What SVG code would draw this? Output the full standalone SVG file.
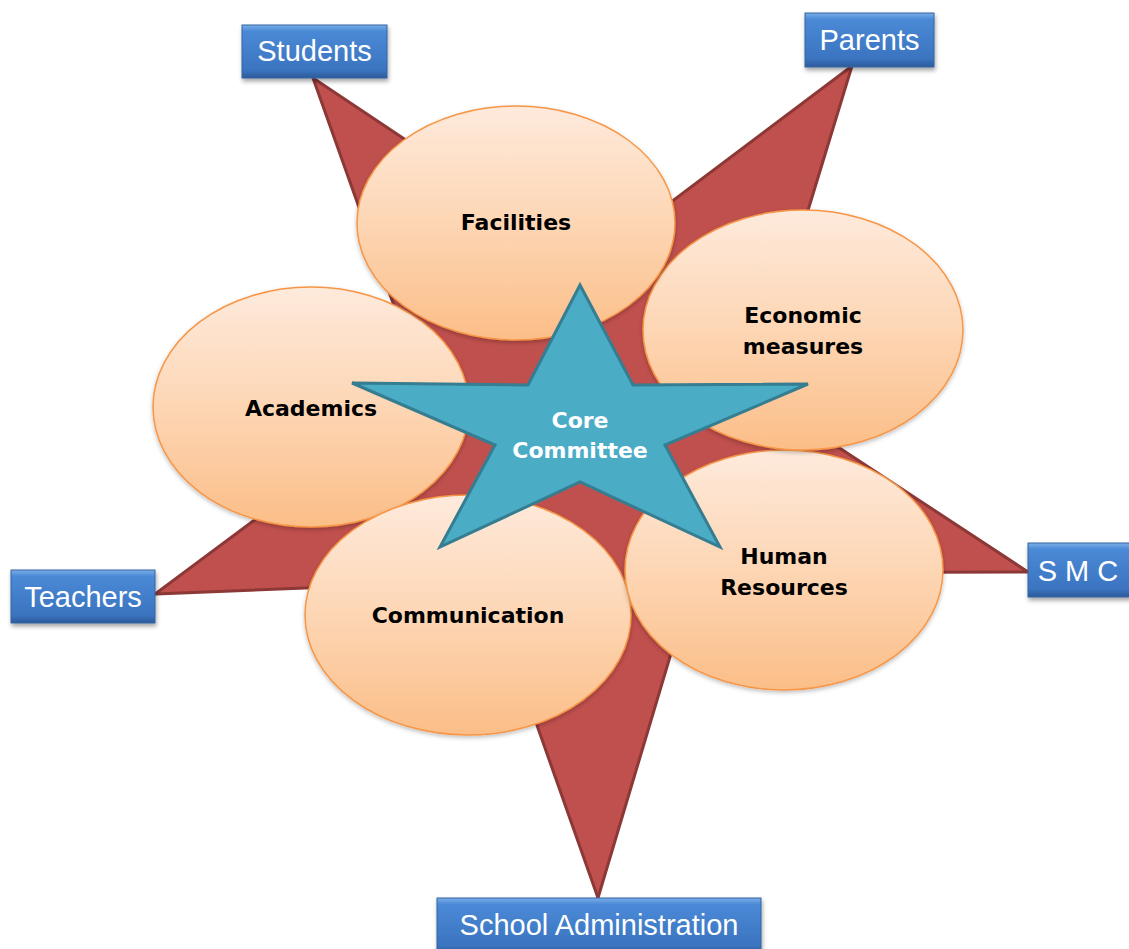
<svg xmlns="http://www.w3.org/2000/svg" width="1129" height="949" viewBox="0 0 1129 949">
<defs>
<linearGradient id="peach" x1="0" y1="0" x2="0" y2="1">
<stop offset="0" stop-color="#FEEADC"/>
<stop offset="0.5" stop-color="#FDD6B4"/>
<stop offset="1" stop-color="#FBBE88"/>
</linearGradient>
<linearGradient id="blue" x1="0" y1="0" x2="0" y2="1">
<stop offset="0" stop-color="#7AAEE8"/>
<stop offset="0.12" stop-color="#4A89D6"/>
<stop offset="0.85" stop-color="#3B74C0"/>
<stop offset="1" stop-color="#2C5A9A"/>
</linearGradient>
<filter id="sh" x="-10%" y="-10%" width="125%" height="130%">
<feDropShadow dx="1" dy="3" stdDeviation="2" flood-color="#000" flood-opacity="0.35"/>
</filter>
<filter id="sh2" x="-10%" y="-10%" width="120%" height="125%">
<feDropShadow dx="0" dy="2" stdDeviation="2" flood-color="#000" flood-opacity="0.25"/>
</filter>
</defs>
<style>
.ell{fill:url(#peach);stroke:#F79646;stroke-width:1.5;filter:url(#sh2)}
.box{fill:url(#blue);stroke:#35649F;stroke-width:1;filter:url(#sh)}
.bt{font-family:"Liberation Sans",Arial,sans-serif;font-size:29px;fill:#fff;text-anchor:middle}
.et{font-family:"DejaVu Sans",Verdana,sans-serif;font-weight:bold;font-size:22px;fill:#000;text-anchor:middle}
.ct{font-family:"DejaVu Sans",Verdana,sans-serif;font-weight:bold;font-size:22px;fill:#fff;text-anchor:middle}
</style>
<g id="connectors">
<polygon points="313,78 590,263 852,66 753,391 1028,572 695,573 598,898 486,581 155,594 425,393" fill="#C0504D" stroke="#8C3836" stroke-width="3" stroke-linejoin="miter"/>
</g>
<g id="academics"><ellipse class="ell" cx="311" cy="407" rx="158" ry="120"/><text class="et" x="311" y="416">Academics</text></g>
<g id="communication"><ellipse class="ell" cx="468" cy="615" rx="163" ry="120"/><text class="et" x="468" y="623">Communication</text></g>
<g id="human-resources"><ellipse class="ell" cx="784" cy="570" rx="159" ry="120"/><text class="et" x="784" y="564">Human</text><text class="et" x="784" y="595">Resources</text></g>
<g id="economic-measures"><ellipse class="ell" cx="803" cy="330" rx="160" ry="120"/><text class="et" x="803" y="323">Economic</text><text class="et" x="803" y="354">measures</text></g>
<g id="facilities"><ellipse class="ell" cx="516" cy="223" rx="159" ry="117"/><text class="et" x="516" y="230">Facilities</text></g>
<g id="core-committee"><polygon points="580,285 633,385 808,384 665,445 720,547 580,482 440,547 495,445 352,383 528,385" fill="#4BACC6" stroke="#357D91" stroke-width="3" stroke-linejoin="miter"/><text class="ct" x="580" y="428">Core</text><text class="ct" x="580" y="458">Committee</text></g>
<g id="students"><rect class="box" x="242" y="25" width="145" height="53"/><text class="bt" x="314.5" y="61">Students</text></g>
<g id="parents"><rect class="box" x="805" y="13" width="129" height="54"/><text class="bt" x="869.5" y="50">Parents</text></g>
<g id="smc"><rect class="box" x="1028" y="543" width="104" height="54"/><text class="bt" x="1078" y="581">S M C</text></g>
<g id="teachers"><rect class="box" x="11" y="570" width="144" height="53"/><text class="bt" x="83" y="607">Teachers</text></g>
<g id="school-administration"><rect class="box" x="437" y="898" width="324" height="56"/><text class="bt" x="599" y="935">School Administration</text></g>
</svg>
